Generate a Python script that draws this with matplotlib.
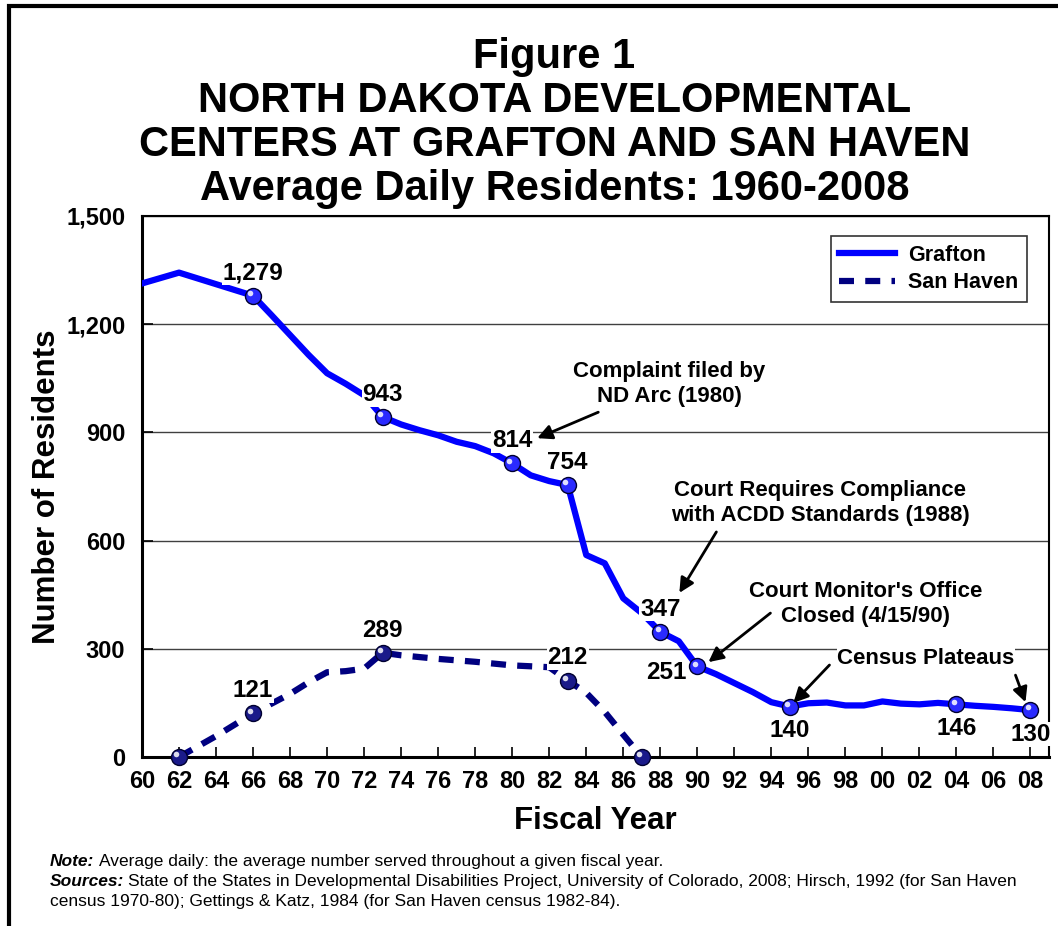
import matplotlib
matplotlib.use("Agg")
import matplotlib.pyplot as plt
from matplotlib.patches import Rectangle
from matplotlib.transforms import offset_copy

# Donnees (annees fiscales)
grafton_years = list(range(1960, 2009))
grafton_vals = [1313, 1328, 1343, 1327, 1311, 1295, 1279, 1225, 1170, 1115,
                1064, 1035, 1003, 943, 922, 906, 892, 874, 862, 842,
                814, 781, 765, 754, 560, 537, 440, 399, 347, 321,
                251, 230, 205, 180, 152, 140, 149, 151, 143, 143,
                154, 148, 146, 150, 146, 142, 139, 135, 130]

haven_years = [1962, 1964, 1966, 1968, 1969, 1970, 1971, 1972, 1973, 1974,
               1976, 1978, 1980, 1982, 1983, 1984, 1985, 1986, 1987]
haven_vals = [0, 58, 121, 175, 207, 235, 238, 245, 289, 282,
              272, 264, 254, 249, 212, 178, 125, 62, 0]

grafton_marked = [1966, 1973, 1980, 1983, 1988, 1990, 1995, 2004, 2008]
haven_marked = [1962, 1966, 1973, 1983, 1987]
haven_labelled = [1966, 1973, 1983]

x_ticks = list(range(1960, 2009, 2))
y_ticks = [0, 300, 600, 900, 1200, 1500]

BLUE = "#0000FF"
NAVY = "#000080"
FONT = ["Liberation Sans", "DejaVu Sans"]
plt.rcParams["font.family"] = FONT
plt.rcParams["font.weight"] = "bold"
plt.rcParams["axes.labelweight"] = "bold"

W, H = 1058, 926
fig = plt.figure(figsize=(W / 100, H / 100), dpi=100)
fig.patch.set_facecolor("white")
ax = fig.add_axes([142 / W, 1 - 757 / H, (1049 - 142) / W, (757 - 216) / H])

# cadre exterieur (coupe a droite et en bas)
fig.add_artist(Rectangle((9 / W, -0.2), 1.5, 1 - 6 / H + 0.2, transform=fig.transFigure,
                         fill=False, lw=3, ec="black"))

ax.plot(grafton_years, grafton_vals, color=BLUE, lw=4.5, solid_joinstyle="round",
        label="Grafton", zorder=3)
ax.plot(haven_years, haven_vals, color=NAVY, lw=4.5, linestyle=(0, (2.4, 1.8)),
        dash_capstyle="butt", label="San Haven", zorder=3)

# marqueurs "spheres"
hl = offset_copy(ax.transData, fig=fig, x=-2, y=2, units="points")
gm = [grafton_vals[grafton_years.index(y)] for y in grafton_marked]
hm = [haven_vals[haven_years.index(y)] for y in haven_marked]
for xs, ys, c in [(grafton_marked, gm, "#2a2aff"), (haven_marked, hm, "#1a1a8a")]:
    ax.plot(xs, ys, "o", ms=11.5, mfc=c, mec="#000030", mew=1, zorder=5, clip_on=False)
    ax.plot(xs, ys, "o", ms=4, mfc="white", mec="none", alpha=0.85, zorder=6,
            transform=hl, clip_on=False)

bb = dict(facecolor="white", edgecolor="none", pad=0.5)
lab_fs = 17.5
for y in grafton_marked:
    v = grafton_vals[grafton_years.index(y)]
    txt = f"{v:,}"
    if y == 1990:
        ax.annotate(txt, (y, v), xytext=(-8, -4), textcoords="offset points",
                    ha="right", va="center", fontsize=lab_fs, bbox=bb, zorder=4)
    elif y >= 1995:
        ax.annotate(txt, (y, v), xytext=(0, -9), textcoords="offset points",
                    ha="center", va="top", fontsize=lab_fs, bbox=bb, zorder=4)
    else:
        ax.annotate(txt, (y, v), xytext=(0, 8), textcoords="offset points",
                    ha="center", va="bottom", fontsize=lab_fs, bbox=bb, zorder=4)
for y in haven_labelled:
    v = haven_vals[haven_years.index(y)]
    ax.annotate(f"{v:,}", (y, v), xytext=(0, 8), textcoords="offset points",
                ha="center", va="bottom", fontsize=lab_fs, bbox=bb, zorder=4)

# annotations avec fleches
ann_fs = 16
arrow = dict(arrowstyle="-|>", lw=2, color="black", mutation_scale=22,
             shrinkA=0, shrinkB=0)
ax.text(1988.5, 1034, "Complaint filed by\nND Arc (1980)", ha="center", va="center",
        fontsize=ann_fs, zorder=7)
ax.annotate("", xy=(1981.35, 884), xytext=(1984.65, 956), arrowprops=arrow, zorder=7)
ax.text(1996.65, 704, "Court Requires Compliance\nwith ACDD Standards (1988)",
        ha="center", va="center", fontsize=ann_fs, zorder=7)
ax.annotate("", xy=(1989.03, 455), xytext=(1991.03, 624), arrowprops=arrow, zorder=7)
ax.text(1999.08, 424, "Court Monitor's Office\nClosed (4/15/90)", ha="center",
        va="center", fontsize=ann_fs, zorder=7)
ax.annotate("", xy=(1990.6, 263), xytext=(1993.95, 399), arrowprops=arrow, zorder=7)
ax.text(2002.35, 274, "Census Plateaus", ha="center", va="center", fontsize=ann_fs,
        bbox=bb, zorder=7)
ax.annotate("", xy=(1995.19, 150), xytext=(1997.14, 255), arrowprops=arrow, zorder=7)
ax.annotate("", xy=(2007.73, 152), xytext=(2007.19, 227), arrowprops=arrow, zorder=7)

ax.set_xlim(1960, 2009)
ax.set_ylim(0, 1500)
ax.set_xticks(x_ticks)
ax.set_xticklabels([f"{y % 100:02d}" for y in x_ticks])
ax.set_yticks(y_ticks)
ax.set_yticklabels([f"{v:,}" for v in y_ticks])
ax.tick_params(axis="both", direction="in", labelsize=17, width=1.2, color="black")
ax.tick_params(axis="x", length=7, pad=9)
ax.tick_params(axis="y", length=8, pad=12)
ax.grid(axis="y", color="#404040", lw=1)
ax.set_axisbelow(True)
for s in ["left", "bottom"]:
    ax.spines[s].set_linewidth(2.2)
for s in ["top", "right"]:
    ax.spines[s].set_linewidth(1.5)

ax.set_ylabel("Number of Residents", fontsize=22.5, labelpad=3)
ax.set_xlabel("Fiscal Year", fontsize=22.5, labelpad=10)

leg = ax.legend(loc="upper right", bbox_to_anchor=(0.976, 0.963), fontsize=15.5,
                handlelength=2.6, frameon=True, fancybox=False, borderpad=0.4,
                labelspacing=0.3, handletextpad=0.6, borderaxespad=0)
leg.get_frame().set_edgecolor("black")
leg.get_frame().set_linewidth(1.2)

# titre
title_lines = ["Figure 1", "NORTH DAKOTA DEVELOPMENTAL",
               "CENTERS AT GRAFTON AND SAN HAVEN", "Average Daily Residents: 1960-2008"]
for i, t in enumerate(title_lines):
    fig.text(0.524, 1 - (68 + 44 * i) / H, t, ha="center", va="baseline",
             fontsize=30, fontweight="bold")

# notes
fn = 12.5
fig.text(50 / W, 1 - 866 / H, "Note:", fontsize=fn, style="italic", va="baseline")
fig.text(99 / W, 1 - 866 / H,
         "Average daily: the average number served throughout a given fiscal year.",
         fontsize=fn, fontweight="normal", va="baseline")
fig.text(50 / W, 1 - 886 / H, "Sources:", fontsize=fn, style="italic", va="baseline")
fig.text(128 / W, 1 - 886 / H,
         "State of the States in Developmental Disabilities Project, University of "
         "Colorado, 2008; Hirsch, 1992 (for San Haven",
         fontsize=fn, fontweight="normal", va="baseline")
fig.text(50 / W, 1 - 906 / H,
         "census 1970-80); Gettings & Katz, 1984 (for San Haven census 1982-84).",
         fontsize=fn, fontweight="normal", va="baseline")

fig.savefig("out.png", dpi=100)
